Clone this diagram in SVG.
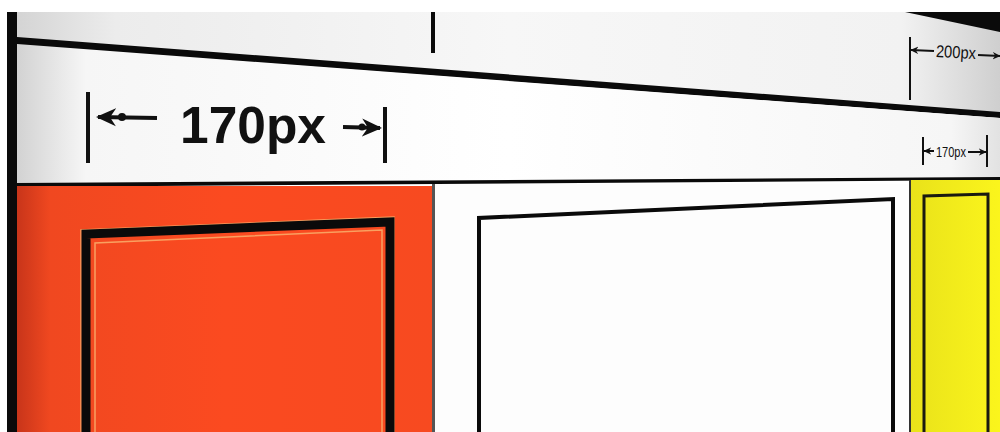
<svg xmlns="http://www.w3.org/2000/svg" width="1000" height="432" viewBox="0 0 1000 432">
<style>
.ink{fill:#0a0a0a}
.dim{stroke:#111;stroke-width:4;fill:none}
.dims{stroke:#111;stroke-width:2;fill:none}
.big{font-family:"Liberation Sans",Arial,sans-serif;font-weight:bold;fill:#111}
.small{font-family:"Liberation Sans Narrow","Liberation Sans",Arial,sans-serif;fill:#111}
</style>
<defs>
<linearGradient id="topg" x1="0" y1="0" x2="1" y2="0">
<stop offset="0" stop-color="#d4d4d4"/><stop offset="0.1" stop-color="#ececec"/><stop offset="0.5" stop-color="#f7f7f7"/><stop offset="0.9" stop-color="#f2f2f2"/><stop offset="1" stop-color="#cfcfcf"/>
</linearGradient>
<linearGradient id="bandg" x1="0" y1="0" x2="1" y2="0">
<stop offset="0" stop-color="#d2d2d2"/><stop offset="0.07" stop-color="#f6f6f6"/><stop offset="0.5" stop-color="#ffffff"/><stop offset="0.95" stop-color="#f6f6f6"/><stop offset="1" stop-color="#e2e2e2"/>
</linearGradient>
<linearGradient id="redg" x1="0" y1="0" x2="1" y2="0">
<stop offset="0" stop-color="#c8351a"/><stop offset="0.08" stop-color="#f04820"/><stop offset="0.5" stop-color="#fb4a20"/><stop offset="1" stop-color="#f74a20"/>
</linearGradient>
<linearGradient id="yelg" x1="0" y1="0" x2="1" y2="0">
<stop offset="0" stop-color="#e9e21a"/><stop offset="1" stop-color="#fbf51c"/>
</linearGradient>
<marker id="ah" viewBox="0 0 10 10" refX="9" refY="5" markerWidth="5" markerHeight="5" orient="auto-start-reverse">
<path d="M10,5 L0,0.5 L3,5 L0,9.5 Z" fill="#111"/>
</marker>
<marker id="ahS" viewBox="0 0 10 10" refX="9" refY="5" markerWidth="4" markerHeight="4" orient="auto-start-reverse">
<path d="M10,5 L0,0.5 L3,5 L0,9.5 Z" fill="#111"/>
</marker>
</defs>
<rect width="1000" height="432" fill="#ffffff"/>
<g id="header">
<polygon points="17,12 1000,12 1000,115 17,38" fill="url(#topg)"/>
<polygon points="905,12 1000,12 1000,32" class="ink"/>
<polygon points="17,37 1000,112 1000,118 17,45" class="ink"/>
<rect x="431" y="12" width="4" height="41" class="ink"/>
</g>
<g id="nav-band">
<polygon points="17,44 1000,118 1000,178 17,184" fill="url(#bandg)"/>
<polygon points="17,183 1000,177 1000,180 17,187" class="ink"/>
<text class="big" x="180" y="143" font-size="52" textLength="146" lengthAdjust="spacingAndGlyphs">170px</text>
<text class="small" x="936" y="58" font-size="17" textLength="40" lengthAdjust="spacingAndGlyphs" transform="rotate(3 956 52)">200px</text>
<text class="small" x="936" y="157" font-size="15" textLength="30" lengthAdjust="spacingAndGlyphs">170px</text>
</g>
<g id="left-column">
<rect x="17" y="186" width="416" height="246" fill="url(#redg)"/>
<polyline points="81,432 81,230 394,217 394,432" fill="none" stroke="#f9a060" stroke-width="1.5"/>
<polyline points="86,432 86,234 390,222 390,432" fill="none" stroke="#0a0a0a" stroke-width="9"/>
<polyline points="95,432 95,243 382,230 382,432" fill="none" stroke="#f9a060" stroke-width="1.5"/>
</g>
<g id="main-column">
<rect x="433" y="184" width="477" height="248" fill="#fdfdfd"/>
<rect x="432" y="184" width="3" height="248" fill="#555"/>
<polyline points="479,432 479,218 893,199 893,432" fill="none" stroke="#0a0a0a" stroke-width="4"/>
</g>
<g id="right-column">
<rect x="910" y="180" width="90" height="252" fill="url(#yelg)"/>
<rect x="909" y="180" width="2" height="252" fill="#333"/>
<polyline points="924,432 924,196 988,194 988,432" fill="none" stroke="#1a1a10" stroke-width="3"/>
</g>
<g id="frame">
<rect x="7" y="12" width="10" height="420" class="ink"/>
</g>
<g id="connectors">
<line x1="88" y1="92" x2="88" y2="163" class="dim" stroke-width="5"/>
<line x1="385" y1="107" x2="385" y2="163" class="dim" stroke-width="5"/>
<line x1="98" y1="117" x2="157" y2="118" class="dim" marker-start="url(#ah)"/>
<line x1="343" y1="127" x2="380" y2="128" class="dim" marker-end="url(#ah)"/>
<circle cx="122" cy="117" r="4" fill="#111"/>
<circle cx="362" cy="127" r="3.5" fill="#111"/>
<line x1="910" y1="37" x2="910" y2="100" class="dims"/>
<line x1="911" y1="50" x2="934" y2="51" class="dims" marker-start="url(#ahS)"/>
<line x1="978" y1="55" x2="1000" y2="56" class="dims" marker-end="url(#ahS)"/>
<line x1="923" y1="137" x2="923" y2="165" class="dims"/>
<line x1="987" y1="135" x2="987" y2="167" class="dims"/>
<line x1="924" y1="151" x2="934" y2="151" class="dims" marker-start="url(#ahS)"/>
<line x1="968" y1="152" x2="986" y2="152" class="dims" marker-end="url(#ahS)"/>
</g>
</svg>
